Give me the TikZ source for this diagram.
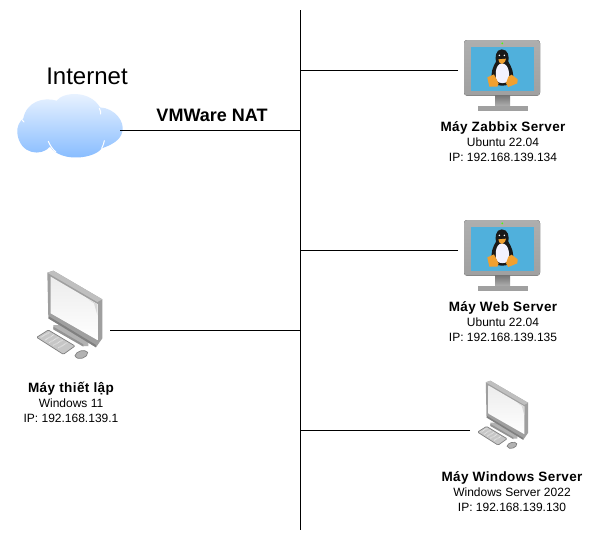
\documentclass[tikz,border=0pt]{standalone}
\usepackage{fontspec}
\setmainfont{Liberation Sans}
\newfontfamily\boldlabel[LetterSpace=3]{Liberation Sans Bold}
\definecolor{framegray}{HTML}{A0A0A0}
\definecolor{framedark}{HTML}{777777}
\definecolor{screenblue}{HTML}{50B0DC}
\definecolor{tuxorange}{HTML}{F0A030}
\definecolor{cloudtop}{HTML}{EEF5FF}
\definecolor{cloudbot}{HTML}{80B8FF}
\tikzset{
  wire/.style={draw=black,line width=0.9pt},
  anchorbox/.style={inner sep=0pt,outer sep=0pt,minimum width=#1,minimum height=10pt},
  caption/.style={font=\fontsize{12}{15}\selectfont,align=center,inner sep=0pt,text=black},
  bigtext/.style={font=\fontsize{#1}{#1}\selectfont,inner sep=0pt,text=black},
}
\newcommand{\boldline}[1]{{\fontsize{13.5}{15}\boldlabel #1}}
\newcommand{\linuxmonitor}[2]{%
\begin{scope}[shift={(#1,#2)},x=0.3333pt,y=-0.3333pt]
  \fill[rounded corners=3pt,top color=framegray!85,bottom color=framegray] (72,30) rectangle (300,197);
  \fill[top color=framedark,bottom color=framegray!85] (165,197) rectangle (210,228);
  \fill[framegray] (113,228) rectangle (265,243);
  \fill[screenblue] (92,50) rectangle (282,182);
  \fill[green!70!yellow] (187,40) circle (3);
  % penguin
  \fill[black!90] (185,58) .. controls (166,58) and (165,85) .. (168,95) .. controls (158,110) and (152,130) .. (155,152) .. controls (165,172) and (208,172) .. (218,152) .. controls (224,130) and (214,110) .. (205,95) .. controls (208,80) and (205,58) .. (185,58) -- cycle;
  \fill[white!95!blue] (186,100) .. controls (165,102) and (165,135) .. (170,152) .. controls (177,162) and (198,162) .. (205,152) .. controls (210,135) and (208,102) .. (186,100) -- cycle;
  \fill[tuxorange] (175,88) -- (198,86) -- (195,95) -- (186,102) -- (178,97) -- cycle;
  \fill[white] (178,76) circle (2.5) (193,76) circle (2.5);
  \fill[tuxorange] (142,142) -- (162,133) -- (176,160) -- (172,170) -- (148,170) -- cycle;
  \fill[tuxorange] (205,140) -- (215,134) -- (233,148) -- (232,160) -- (205,171) -- (198,160) -- cycle;
\end{scope}}
\newcommand{\desktopicon}[3]{%
\begin{scope}[shift={(#1,#2)},x=#3pt,y=-#3pt]
  \fill[gray!60] (100,195) -- (118,195) -- (205,245) -- (205,258) -- (190,258) -- (100,208) -- cycle;
  \fill[gray!85] (100,200) -- (190,253) -- (190,260) -- (100,208) -- cycle;
  \fill[gray!75] (82,38) -- (100,32) -- (247,118) -- (247,235) -- (228,262) -- (85,175) -- cycle;
  \fill[gray!50] (82,38) -- (100,32) -- (247,118) -- (232,126) -- cycle;
  \fill[gray] (85,175) -- (228,262) -- (228,255) -- (88,170) -- cycle;
  \shade[top color=gray!15,bottom color=white] (92,50) -- (232,132) -- (232,240) -- (92,160) -- cycle;
  \fill[gray!30] (205,118) -- (232,132) -- (232,165) -- (222,130) -- cycle;
  \draw[gray,line width=0.7pt,fill=gray!45,rounded corners=1pt] (50,232) -- (85,210) -- (165,258) -- (130,283) -- cycle;
  \draw[white!80!gray,line width=1.1pt,dash pattern=on 0.7pt off 0.7pt] (62,232) -- (88,217) (75,240) -- (102,224) (88,248) -- (115,232) (100,256) -- (128,240) (115,264) -- (142,248);
  \draw[gray,line width=0.7pt,fill=gray!60] (165,287) .. controls (168,273) and (195,266) .. (203,277) .. controls (206,292) and (172,305) .. (165,287) -- cycle;
\end{scope}}
\begin{document}
\begin{tikzpicture}[x=1pt,y=-1pt]
\useasboundingbox (0,0) rectangle (593,542);
\fill[white] (0,0) rectangle (593,542);
% icons
\linuxmonitor{440}{30}
\linuxmonitor{440}{210}
\desktopicon{20}{260}{0.3333}
\desktopicon{464.7}{372.5}{0.2567}
% cloud
\begin{scope}[shift={(0,50)},x=0.3333pt,y=-0.3333pt]
  \shade[top color=cloudtop,bottom color=cloudbot]
   (70,205) .. controls (80,155) and (130,140) .. (170,152) .. controls (190,125) and (270,120) .. (300,172)
   .. controls (345,175) and (375,215) .. (367,245) .. controls (362,270) and (335,285) .. (305,295)
   .. controls (285,325) and (185,340) .. (150,290) .. controls (125,320) and (60,315) .. (52,250)
   .. controls (50,230) and (58,215) .. (70,205) -- cycle;
  \draw[white,line width=1pt,line cap=round] (145,274) .. controls (152,290) and (160,300) .. (168,306);
  \draw[white,line width=1pt,line cap=round] (298,175) .. controls (302,185) and (303,188) .. (302,192);
  \draw[white,line width=1pt,line cap=round] (65,208) -- (72,216);
  \draw[white,line width=1pt,line cap=round] (305,295) .. controls (310,285) and (312,278) .. (313,272);
\end{scope}
% invisible anchors for connectors
\node[anchorbox=106pt] (internet) at (67,130.5) {};
\node[anchorbox=12pt] (zabbix) at (464,70.5) {};
\node[anchorbox=12pt] (web) at (464,250.5) {};
\node[anchorbox=10pt] (setup) at (105,330.5) {};
\node[anchorbox=10pt] (winserver) at (475,430.5) {};
\coordinate (bustop) at (300.5,10);
\coordinate (busbot) at (300.5,530);
% connectors
\draw[wire] (bustop) -- (busbot);
\draw[wire] (internet.east) -- (internet.east -| bustop);
\draw[wire] (zabbix.center) ++(-6,0) -- (zabbix.center -| bustop);
\draw[wire] (web.center) ++(-6,0) -- (web.center -| bustop);
\draw[wire] (setup.east) -- (setup.east -| bustop);
\draw[wire] (winserver.west) -- (winserver.west -| bustop);
% labels
\node[bigtext=24] (inetlabel) at (87,76) {Internet};
\node[bigtext=18,font=\fontsize{18}{18}\selectfont\bfseries] (natlabel) at (212,115) {VMWare NAT};
\node[caption] (l1) at (503,142) {\boldline{Máy Zabbix Server}\\Ubuntu 22.04\\IP: 192.168.139.134};
\node[caption] (l2) at (503,322) {\boldline{Máy Web Server}\\Ubuntu 22.04\\IP: 192.168.139.135};
\node[caption] (l3) at (71,402) {\boldline{Máy thiết lập}\\Windows 11\\IP: 192.168.139.1};
\node[caption] (l4) at (512,492) {\boldline{Máy Windows Server}\\Windows Server 2022\\IP: 192.168.139.130};
\end{tikzpicture}
\end{document}
